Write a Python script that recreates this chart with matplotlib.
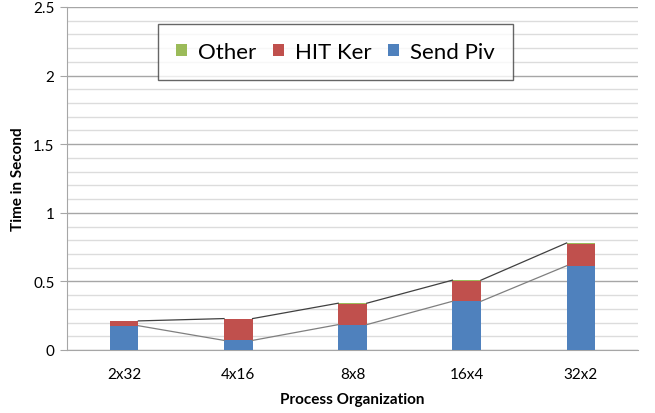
import matplotlib.pyplot as plt
import numpy as np
from matplotlib.ticker import MultipleLocator

# Chart data
categories = ['2x32', '4x16', '8x8', '16x4', '32x2']
sendPiv = [0.177, 0.070, 0.185, 0.355, 0.614]
hitKer = [0.033, 0.156, 0.153, 0.150, 0.159]
other = [0.002, 0.003, 0.003, 0.004, 0.007]

BLUE = '#4F81BD'
RED = '#C0504D'
GREEN = '#9BBB59'
BAR_WIDTH = 0.25

plt.rcParams['font.family'] = ['Lato', 'DejaVu Sans']

fig = plt.figure(figsize=(6.55, 4.14), dpi=100)
ax = fig.add_axes([67 / 655, 1 - 351 / 414, (638 - 67) / 655, (351 - 8) / 414])

x = np.arange(len(categories))
sendPiv = np.array(sendPiv)
hitKer = np.array(hitKer)
other = np.array(other)

ax.bar(x, sendPiv, BAR_WIDTH, color=BLUE, label='Send Piv', zorder=3)
ax.bar(x, hitKer, BAR_WIDTH, bottom=sendPiv, color=RED, label='HIT Ker', zorder=3)
ax.bar(x, other, BAR_WIDTH, bottom=sendPiv + hitKer, color=GREEN, label='Other', zorder=3)

# Series lines between bar tops
for tops, col in [(sendPiv, '#7f7f7f'), (sendPiv + hitKer + other, '#404040')]:
    for i in range(len(x) - 1):
        ax.plot([x[i] + BAR_WIDTH / 2, x[i + 1] - BAR_WIDTH / 2], [tops[i], tops[i + 1]],
                color=col, lw=0.9, zorder=4)

ax.set_xlim(-0.5, len(x) - 0.5)
ax.set_ylim(0, 2.5)
ax.yaxis.set_major_locator(MultipleLocator(0.5))
ax.yaxis.set_minor_locator(MultipleLocator(0.1))
ax.set_yticks([0, 0.5, 1, 1.5, 2, 2.5])
ax.set_yticklabels(['0', '0.5', '1', '1.5', '2', '2.5'])
ax.grid(axis='y', which='major', color='#a6a6a6', lw=1.0, zorder=0)
ax.grid(axis='y', which='minor', color='#dcdcdc', lw=1.0, zorder=0)
ax.tick_params(axis='y', which='major', length=5, color='#a6a6a6', labelsize=11, pad=4)
ax.tick_params(axis='y', which='minor', length=0)
ax.set_xticks(x)
ax.set_xticklabels(categories)
ax.tick_params(axis='x', length=0, labelsize=11, pad=12)

for s in ['top', 'right']:
    ax.spines[s].set_visible(False)
for s in ['left', 'bottom']:
    ax.spines[s].set_color('#a6a6a6')

ax.set_ylabel('Time in Second', fontsize=11, fontweight='bold', labelpad=6)
ax.set_xlabel('Process Organization', fontsize=11, fontweight='bold', labelpad=8)

handles, labels = ax.get_legend_handles_labels()
leg = ax.legend(handles[::-1], labels[::-1], loc='upper center', bbox_to_anchor=(0.47, 0.95),
                borderaxespad=0, ncol=3, fontsize=16, frameon=True, fancybox=False,
                edgecolor='#404040', handlelength=0.5, handleheight=0.5, handletextpad=0.5,
                columnspacing=0.75, borderpad=0.8)
leg.get_frame().set_linewidth(1.0)
leg.set_zorder(5)

fig.savefig('out.png', dpi=100)
